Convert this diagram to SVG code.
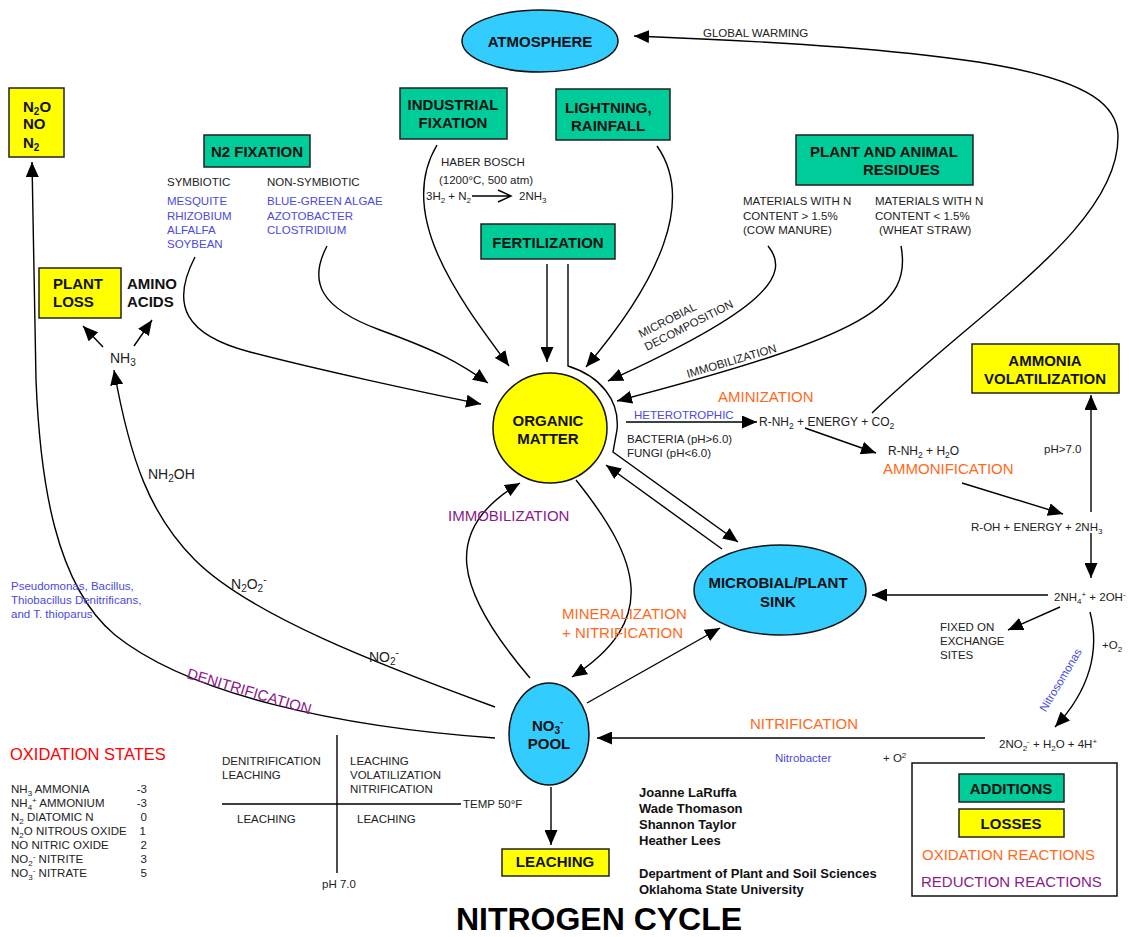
<svg xmlns="http://www.w3.org/2000/svg" width="1129" height="937" viewBox="0 0 1129 937">
<style>
text{font-family:"Liberation Sans",Arial,sans-serif;fill:#111}
.bx-g{fill:#00cc99;stroke:#222;stroke-width:1.5}
.bx-y{fill:#ffff00;stroke:#222;stroke-width:1.5}
.el{fill:#33ccff;stroke:#111;stroke-width:1.5}
.cn{fill:none;stroke:#000;stroke-width:1.4}
.ln{fill:none;stroke:#000;stroke-width:1.4}
.b15{font-weight:bold;font-size:15px}
.s11{font-size:11.5px;fill:#222}
.s12{font-size:12px;fill:#222}
.s14{font-size:14px;fill:#222}
.blue{fill:#4a4ae0}
.org{fill:#ff6a1a;font-size:15px}
.pur{fill:#8a1a8a;font-size:15px}
.red{fill:#ff0000;font-size:16.5px}
.auth{font-weight:bold;font-size:13px}
.title{font-weight:bold;font-size:32px;fill:#000}
</style>
<defs>
<marker id="ah" viewBox="0 0 15 13" refX="15" refY="6.5" markerWidth="15" markerHeight="13" orient="auto" markerUnits="userSpaceOnUse">
<path d="M0,0 L15,6.5 L0,13 z" fill="#000"/>
</marker>
</defs>

<g id="connectors">
<path class="cn" d="M 547 264 L 547 362" marker-end="url(#ah)"/>
<path class="cn" d="M 568 264 L 568 366 C 600 376, 620 400, 617 430 L 613 452 L 738 542" marker-end="url(#ah)"/>
<path class="cn" d="M 437 145 C 395 215, 460 300, 509 366" marker-end="url(#ah)"/>
<path class="cn" d="M 657 146 C 695 200, 660 280, 586 367" marker-end="url(#ah)"/>
<path class="cn" d="M 768 246 C 792 275, 765 310, 608 381" marker-end="url(#ah)"/>
<path class="cn" d="M 901 246 C 912 305, 870 335, 617 401" marker-end="url(#ah)"/>
<path class="cn" d="M 195 257 C 170 305, 185 335, 250 352 S 420 392, 481 404" marker-end="url(#ah)"/>
<path class="cn" d="M 327 246 C 308 282, 320 308, 380 330 S 458 362, 488 383" marker-end="url(#ah)"/>
<path class="cn" d="M 722 549 L 606 465" marker-end="url(#ah)"/>
<path class="cn" d="M 530 678 C 455 590, 440 530, 520 483" marker-end="url(#ah)"/>
<path class="cn" d="M 576 480 C 640 560, 660 620, 572 677" marker-end="url(#ah)"/>
<path class="cn" d="M 587 703 L 720 628" marker-end="url(#ah)"/>
<path class="cn" d="M 551 787 L 551 845" marker-end="url(#ah)"/>
<path class="cn" d="M 495 738 C 340 727, 190 695, 115 635 C 55 585, 40 480, 36 380 L 32 162" marker-end="url(#ah)"/>
<path class="cn" d="M 495 707 C 380 665, 250 615, 195 560 C 150 515, 130 460, 114 370" marker-end="url(#ah)"/>
<path class="cn" d="M 103 347 L 83 326" marker-end="url(#ah)"/>
<path class="cn" d="M 134 346 L 152 320" marker-end="url(#ah)"/>
<path class="cn" d="M 872 413 C 985 305, 1120 225, 1118 135 C 1116 75, 1000 50, 634 36" marker-end="url(#ah)"/>
<path class="cn" d="M 626 422 L 757 422" marker-end="url(#ah)"/>
<path class="cn" d="M 805 428 L 876 453" marker-end="url(#ah)"/>
<path class="cn" d="M 962 483 L 1063 514" marker-end="url(#ah)"/>
<path class="cn" d="M 1091 512 L 1091 395" marker-end="url(#ah)"/>
<path class="cn" d="M 1091 533 L 1091 578" marker-end="url(#ah)"/>
<path class="cn" d="M 1048 595 L 872 595" marker-end="url(#ah)"/>
<path class="cn" d="M 1060 607 L 1008 630" marker-end="url(#ah)"/>
<path class="cn" d="M 1090 612 C 1100 650, 1090 690, 1055 727" marker-end="url(#ah)"/>
<path class="cn" d="M 985 738 L 597 738" marker-end="url(#ah)"/>
<path class="cn" d="M 472 196 L 511 196 M 498 190 L 511 196 L 498 202"/>
</g>

<g id="atmosphere">
<ellipse class="el" cx="540" cy="41" rx="78" ry="31"/>
<text class="b15" x="540" y="47" text-anchor="middle">ATMOSPHERE</text>
</g>
<g id="n2o-box">
<rect class="bx-y" x="9" y="88" width="55" height="69"/>
<text class="b15" x="23" y="112">N<tspan font-size="10" dy="3">2</tspan><tspan dy="-3">O</tspan></text>
<text class="b15" x="23" y="129">NO</text>
<text class="b15" x="23" y="148">N<tspan font-size="10" dy="3">2</tspan></text>
</g>
<g id="n2-fixation">
<rect class="bx-g" x="204" y="135" width="106" height="32"/>
<text class="b15" x="257" y="157" text-anchor="middle">N2 FIXATION</text>
</g>
<g id="industrial-fixation">
<rect class="bx-g" x="400" y="88" width="107" height="51"/>
<text class="b15" x="453" y="110" text-anchor="middle">INDUSTRIAL</text>
<text class="b15" x="453" y="128" text-anchor="middle">FIXATION</text>
</g>
<g id="lightning">
<rect class="bx-g" x="556" y="89" width="114" height="51"/>
<text class="b15" x="565" y="113">LIGHTNING,</text>
<text class="b15" x="571" y="131">RAINFALL</text>
</g>
<g id="fertilization">
<rect class="bx-g" x="481" y="224" width="134" height="35"/>
<text class="b15" x="548" y="248" text-anchor="middle">FERTILIZATION</text>
</g>
<g id="residues">
<rect class="bx-g" x="796" y="135" width="177" height="50"/>
<text class="b15" x="810" y="157">PLANT AND ANIMAL</text>
<text class="b15" x="863" y="175">RESIDUES</text>
</g>
<g id="plant-loss">
<rect class="bx-y" x="39" y="268" width="82" height="50"/>
<text class="b15" x="53" y="289">PLANT</text>
<text class="b15" x="53" y="307">LOSS</text>
</g>
<g id="amino-acids">
<text class="b15" x="127" y="289">AMINO</text>
<text class="b15" x="127" y="307">ACIDS</text>
</g>
<g id="ammonia-volatilization">
<rect class="bx-y" x="972" y="344" width="147" height="49"/>
<text class="b15" x="1045" y="366" text-anchor="middle">AMMONIA</text>
<text class="b15" x="1045" y="384" text-anchor="middle">VOLATILIZATION</text>
</g>
<g id="organic-matter">
<ellipse cx="550" cy="428" rx="57" ry="55" fill="#ffff00" stroke="#111" stroke-width="1.5"/>
<text class="b15" x="548" y="426" text-anchor="middle">ORGANIC</text>
<text class="b15" x="548" y="444" text-anchor="middle">MATTER</text>
</g>
<g id="microbial-sink">
<ellipse class="el" cx="780" cy="590" rx="86" ry="45"/>
<text class="b15" x="778" y="588" text-anchor="middle">MICROBIAL/PLANT</text>
<text class="b15" x="778" y="607" text-anchor="middle">SINK</text>
</g>
<g id="no3-pool">
<ellipse class="el" cx="549" cy="734" rx="40" ry="51"/>
<text class="b15" x="532" y="731">NO<tspan font-size="10" dy="3">3</tspan><tspan font-size="10" dy="-9">-</tspan></text>
<text class="b15" x="549" y="749" text-anchor="middle">POOL</text>
</g>
<g id="leaching">
<rect class="bx-y" x="502" y="849" width="107" height="27"/>
<text class="b15" x="555" y="867" text-anchor="middle">LEACHING</text>
</g>
<g id="legend">
<rect x="912" y="763" width="205" height="133" fill="none" stroke="#111" stroke-width="1.5"/>
<rect class="bx-g" x="959" y="774" width="105" height="28"/>
<text class="b15" x="1011" y="794" text-anchor="middle">ADDITIONS</text>
<rect class="bx-y" x="959" y="809" width="105" height="28"/>
<text class="b15" x="1011" y="829" text-anchor="middle">LOSSES</text>
<text class="org" x="922" y="860">OXIDATION REACTIONS</text>
<text class="pur" x="921" y="887">REDUCTION REACTIONS</text>
</g>

<g id="labels">
<text class="s11" x="703" y="37">GLOBAL WARMING</text>
<text class="s11" x="167" y="186">SYMBIOTIC</text>
<text class="s11" x="267" y="186">NON-SYMBIOTIC</text>
<text class="s11 blue" x="167" y="205">MESQUITE</text>
<text class="s11 blue" x="167" y="220">RHIZOBIUM</text>
<text class="s11 blue" x="167" y="234">ALFALFA</text>
<text class="s11 blue" x="167" y="248">SOYBEAN</text>
<text class="s11 blue" x="267" y="205">BLUE-GREEN ALGAE</text>
<text class="s11 blue" x="267" y="220">AZOTOBACTER</text>
<text class="s11 blue" x="267" y="234">CLOSTRIDIUM</text>
<text class="s11" x="441" y="166">HABER BOSCH</text>
<text class="s11" x="439" y="184">(1200°C, 500 atm)</text>
<text class="s11" x="426" y="200">3H<tspan font-size="8" dy="3">2</tspan><tspan dy="-3"> + N</tspan><tspan font-size="8" dy="3">2</tspan></text>
<text class="s11" x="519" y="200">2NH<tspan font-size="8" dy="3">3</tspan></text>
<text class="s11" x="743" y="205">MATERIALS WITH N</text>
<text class="s11" x="743" y="220">CONTENT &gt; 1.5%</text>
<text class="s11" x="743" y="234">(COW MANURE)</text>
<text class="s11" x="875" y="205">MATERIALS WITH N</text>
<text class="s11" x="875" y="220">CONTENT &lt; 1.5%</text>
<text class="s11" x="879" y="234">(WHEAT STRAW)</text>
<text class="s11" transform="translate(641,338) rotate(-27)">MICROBIAL</text>
<text class="s11" transform="translate(647,351) rotate(-27)">DECOMPOSITION</text>
<text class="s11" transform="translate(688,378) rotate(-16.5)">IMMOBILIZATION</text>
<text class="s14" x="110" y="363">NH<tspan font-size="10" dy="3">3</tspan></text>
<text class="s14" x="148" y="479">NH<tspan font-size="10" dy="3">2</tspan><tspan dy="-3">OH</tspan></text>
<text class="s14" x="231" y="589">N<tspan font-size="10" dy="3">2</tspan><tspan dy="-3">O</tspan><tspan font-size="10" dy="3">2</tspan><tspan font-size="10" dy="-9">-</tspan></text>
<text class="s14" x="369" y="662">NO<tspan font-size="10" dy="3">2</tspan><tspan font-size="10" dy="-9">-</tspan></text>
<text class="pur" transform="translate(186,678) rotate(16.5)">DENITRIFICATION</text>
<text class="s11 blue" x="11" y="590">Pseudomonas, Bacillus,</text>
<text class="s11 blue" x="11" y="604">Thiobacillus Denitrificans,</text>
<text class="s11 blue" x="11" y="618">and T. thioparus</text>
<text class="pur" x="448" y="521">IMMOBILIZATION</text>
<text class="org" x="562" y="619">MINERALIZATION</text>
<text class="org" x="562" y="638">+ NITRIFICATION</text>
<text class="org" x="718" y="402">AMINIZATION</text>
<text class="s11 blue" x="634" y="419">HETEROTROPHIC</text>
<text class="s12" x="759" y="426">R-NH<tspan font-size="8.5" dy="3">2</tspan><tspan dy="-3"> + ENERGY + CO</tspan><tspan font-size="8.5" dy="3">2</tspan></text>
<text class="s11" x="627" y="443">BACTERIA (pH&gt;6.0)</text>
<text class="s11" x="627" y="457">FUNGI (pH&lt;6.0)</text>
<text class="s12" x="888" y="455">R-NH<tspan font-size="8.5" dy="3">2</tspan><tspan dy="-3"> + H</tspan><tspan font-size="8.5" dy="3">2</tspan><tspan dy="-3">O</tspan></text>
<text class="org" x="883" y="474">AMMONIFICATION</text>
<text class="s11" x="1044" y="453">pH&gt;7.0</text>
<text class="s11" x="971" y="531">R-OH + ENERGY + 2NH<tspan font-size="8" dy="3">3</tspan></text>
<text class="s11" x="1054" y="601">2NH<tspan font-size="8" dy="3">4</tspan><tspan font-size="8" dy="-7">+</tspan><tspan dy="4"> + 2OH</tspan><tspan font-size="8" dy="-4">-</tspan></text>
<text class="s11" x="940" y="631">FIXED ON</text>
<text class="s11" x="940" y="645">EXCHANGE</text>
<text class="s11" x="940" y="659">SITES</text>
<text class="s11" x="1102" y="649">+O<tspan font-size="8" dy="3">2</tspan></text>
<text class="s11 blue" transform="translate(1064,682) rotate(-59)" text-anchor="middle">Nitrosomonas</text>
<text class="s11" x="999" y="748">2NO<tspan font-size="8" dy="3">2</tspan><tspan font-size="8" dy="-7">-</tspan><tspan dy="4"> + H</tspan><tspan font-size="8" dy="3">2</tspan><tspan dy="-3">O + 4H</tspan><tspan font-size="8" dy="-4">+</tspan></text>
<text class="org" x="750" y="729">NITRIFICATION</text>
<text class="s11 blue" x="775" y="762">Nitrobacter</text>
<text class="s11" x="883" y="762">+ O<tspan font-size="8" dy="-4">2</tspan></text>
</g>

<g id="oxidation-states">
<text class="red" x="10" y="760">OXIDATION STATES</text>
<text class="s11" x="11" y="793">NH<tspan font-size="8" dy="3">3</tspan><tspan dy="-3"> AMMONIA</tspan></text>
<text class="s11" x="11" y="807">NH<tspan font-size="8" dy="3">4</tspan><tspan font-size="8" dy="-7">+</tspan><tspan dy="4"> AMMONIUM</tspan></text>
<text class="s11" x="11" y="821">N<tspan font-size="8" dy="3">2</tspan><tspan dy="-3"> DIATOMIC N</tspan></text>
<text class="s11" x="11" y="835">N<tspan font-size="8" dy="3">2</tspan><tspan dy="-3">O NITROUS OXIDE</tspan></text>
<text class="s11" x="11" y="849">NO NITRIC OXIDE</text>
<text class="s11" x="11" y="863">NO<tspan font-size="8" dy="3">2</tspan><tspan font-size="8" dy="-7">-</tspan><tspan dy="4"> NITRITE</tspan></text>
<text class="s11" x="11" y="877">NO<tspan font-size="8" dy="3">3</tspan><tspan font-size="8" dy="-7">-</tspan><tspan dy="4"> NITRATE</tspan></text>
<text class="s11" x="147" y="793" text-anchor="end">-3</text>
<text class="s11" x="147" y="807" text-anchor="end">-3</text>
<text class="s11" x="147" y="821" text-anchor="end">0</text>
<text class="s11" x="146" y="835" text-anchor="end">1</text>
<text class="s11" x="147" y="849" text-anchor="end">2</text>
<text class="s11" x="147" y="863" text-anchor="end">3</text>
<text class="s11" x="147" y="877" text-anchor="end">5</text>
</g>

<g id="quadrant">
<path class="ln" d="M 337 735 L 337 873 M 222 804 L 461 804"/>
<text class="s11" x="222" y="765">DENITRIFICATION</text>
<text class="s11" x="222" y="779">LEACHING</text>
<text class="s11" x="350" y="765">LEACHING</text>
<text class="s11" x="350" y="779">VOLATILIZATION</text>
<text class="s11" x="350" y="793">NITRIFICATION</text>
<text class="s11" x="237" y="823">LEACHING</text>
<text class="s11" x="357" y="823">LEACHING</text>
<text class="s11" x="463" y="808">TEMP 50°F</text>
<text class="s11" x="322" y="888">pH 7.0</text>
</g>

<g id="credits">
<text class="auth" x="639" y="797">Joanne LaRuffa</text>
<text class="auth" x="639" y="813">Wade Thomason</text>
<text class="auth" x="639" y="829">Shannon Taylor</text>
<text class="auth" x="639" y="845">Heather Lees</text>
<text class="auth" x="639" y="878">Department of Plant and Soil Sciences</text>
<text class="auth" x="639" y="894">Oklahoma State University</text>
</g>

<text class="title" x="599" y="930" text-anchor="middle">NITROGEN CYCLE</text>
</svg>
